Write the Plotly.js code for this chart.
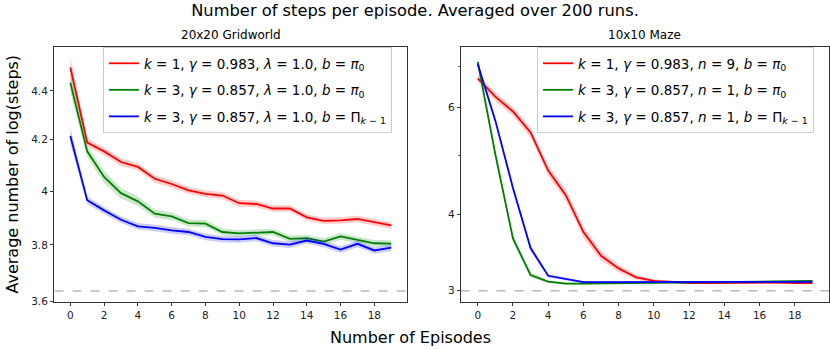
<!DOCTYPE html>
<html>
<head>
<meta charset="utf-8">
<script src="https://cdn.plot.ly/plotly-3.0.1.min.js"></script>
<style>
  html, body { margin: 0; padding: 0; background: #fff; }
  #chart { width: 830px; height: 349px; }
</style>
</head>
<body>
<div id="chart"></div>
<script>
const episodes = [0, 1, 2, 3, 4, 5, 6, 7, 8, 9, 10, 11, 12, 13, 14, 15, 16, 17, 18, 19];

// 20x20 Gridworld
const gridRed = [4.499, 4.189, 4.154, 4.112, 4.093, 4.047, 4.027, 4.003, 3.989, 3.983, 3.954, 3.951, 3.934, 3.934, 3.901, 3.888, 3.890, 3.895, 3.883, 3.871];
const gridGreen = [4.435, 4.154, 4.054, 3.992, 3.961, 3.915, 3.905, 3.880, 3.878, 3.847, 3.842, 3.845, 3.847, 3.822, 3.825, 3.812, 3.831, 3.818, 3.806, 3.805];
const gridBlue = [4.215, 3.965, 3.927, 3.892, 3.868, 3.862, 3.853, 3.847, 3.829, 3.821, 3.820, 3.825, 3.806, 3.801, 3.816, 3.804, 3.783, 3.804, 3.780, 3.790];
const gridRedErr = [0.045, 0.016, 0.015, 0.015, 0.014, 0.014, 0.014, 0.013, 0.013, 0.013, 0.013, 0.012, 0.012, 0.012, 0.012, 0.012, 0.012, 0.012, 0.012, 0.012];
const gridGreenErr = [0.040, 0.022, 0.024, 0.020, 0.018, 0.015, 0.014, 0.013, 0.013, 0.012, 0.012, 0.012, 0.012, 0.012, 0.012, 0.012, 0.012, 0.012, 0.012, 0.012];
const gridBlueErr = [0.032, 0.014, 0.013, 0.012, 0.012, 0.012, 0.012, 0.012, 0.012, 0.012, 0.012, 0.012, 0.012, 0.012, 0.012, 0.012, 0.012, 0.012, 0.012, 0.012];

// 10x10 Maze
const mazeRed = [6.69, 6.24, 5.90, 5.45, 4.72, 4.30, 3.74, 3.42, 3.26, 3.15, 3.11, 3.10, 3.085, 3.085, 3.088, 3.085, 3.088, 3.09, 3.085, 3.085];
const mazeGreen = [7.12, 5.02, 3.65, 3.18, 3.10, 3.078, 3.078, 3.08, 3.08, 3.082, 3.085, 3.086, 3.088, 3.09, 3.092, 3.095, 3.098, 3.10, 3.105, 3.108];
const mazeBlue = [7.06, 5.70, 4.42, 3.52, 3.17, 3.13, 3.095, 3.095, 3.095, 3.096, 3.096, 3.096, 3.095, 3.095, 3.094, 3.094, 3.096, 3.097, 3.098, 3.098];
const mazeRedErr = [0.10, 0.10, 0.10, 0.10, 0.09, 0.09, 0.08, 0.06, 0.045, 0.03, 0.02, 0.016, 0.014, 0.014, 0.014, 0.014, 0.014, 0.014, 0.014, 0.014];
const mazeGreenErr = [0.11, 0.07, 0.05, 0.03, 0.014, 0.012, 0.012, 0.012, 0.012, 0.012, 0.012, 0.012, 0.012, 0.012, 0.012, 0.012, 0.012, 0.012, 0.012, 0.012];
const mazeBlueErr = [0.08, 0.06, 0.05, 0.04, 0.02, 0.014, 0.012, 0.012, 0.012, 0.012, 0.012, 0.012, 0.012, 0.012, 0.012, 0.012, 0.012, 0.012, 0.012, 0.012];

const optimalSteps = [3.637, 2.996];

const gridLabels = [
  "<i>k</i> = 1, <i>γ</i> = 0.983, <i>λ</i> = 1.0, <i>b</i> = <i>π</i><sub>0</sub>",
  "<i>k</i> = 3, <i>γ</i> = 0.857, <i>λ</i> = 1.0, <i>b</i> = <i>π</i><sub>0</sub>",
  "<i>k</i> = 3, <i>γ</i> = 0.857, <i>λ</i> = 1.0, <i>b</i> = Π<sub><i>k</i> − 1</sub>"
];
const mazeLabels = [
  "<i>k</i> = 1, <i>γ</i> = 0.983, <i>n</i> = 9, <i>b</i> = <i>π</i><sub>0</sub>",
  "<i>k</i> = 3, <i>γ</i> = 0.857, <i>n</i> = 1, <i>b</i> = <i>π</i><sub>0</sub>",
  "<i>k</i> = 3, <i>γ</i> = 0.857, <i>n</i> = 1, <i>b</i> = Π<sub><i>k</i> − 1</sub>"
];

const colors = ["#ff0000", "#008000", "#0000ff"];
const bandColors = ["rgba(255,0,0,0.2)", "rgba(0,128,0,0.2)", "rgba(0,0,255,0.2)"];

const traces = [];

function addSeries(y, err, idx, label, xa, ya, legendName) {
  const lo = y.map((v, i) => v - err[i]);
  const hi = y.map((v, i) => v + err[i]);
  traces.push({
    x: episodes, y: lo, xaxis: xa, yaxis: ya, type: "scatter", mode: "lines",
    line: { width: 0, color: bandColors[idx] }, showlegend: false, hoverinfo: "skip"
  });
  traces.push({
    x: episodes, y: hi, xaxis: xa, yaxis: ya, type: "scatter", mode: "lines",
    line: { width: 0, color: bandColors[idx] }, fill: "tonexty", fillcolor: bandColors[idx],
    showlegend: false, hoverinfo: "skip"
  });
  traces.push({
    x: episodes, y: y, xaxis: xa, yaxis: ya, type: "scatter", mode: "lines",
    line: { width: 1.8, color: colors[idx] }, name: label, legend: legendName,
    legendgroup: legendName + idx
  });
}

// dashed optimal lines first so they sit under the curves
traces.push({
  x: [-2, 22], y: [optimalSteps[0], optimalSteps[0]], xaxis: "x", yaxis: "y",
  type: "scatter", mode: "lines", line: { color: "#b8b8b8", width: 1.5, dash: "dash" },
  showlegend: false, hoverinfo: "skip"
});
traces.push({
  x: [-2, 22], y: [optimalSteps[1], optimalSteps[1]], xaxis: "x2", yaxis: "y2",
  type: "scatter", mode: "lines", line: { color: "#b8b8b8", width: 1.5, dash: "dash" },
  showlegend: false, hoverinfo: "skip"
});

[gridRed, gridGreen, gridBlue].forEach((s, i) =>
  addSeries(s, [gridRedErr, gridGreenErr, gridBlueErr][i], i, gridLabels[i], "x", "y", "legend"));
[mazeRed, mazeGreen, mazeBlue].forEach((s, i) =>
  addSeries(s, [mazeRedErr, mazeGreenErr, mazeBlueErr][i], i, mazeLabels[i], "x2", "y2", "legend2"));

const font = "DejaVu Sans, sans-serif";

const xBase = {
  range: [-0.95, 19.95], tick0: 0, dtick: 2, ticks: "outside", ticklen: 3.5, tickwidth: 0.8,
  tickcolor: "#000", showline: true, mirror: true, linecolor: "#000", linewidth: 0.8,
  showgrid: false, zeroline: false, tickfont: { family: font, size: 10.5, color: "#222" }
};
const yBase = {
  type: "log", ticks: "outside", ticklen: 3.5, tickwidth: 0.8, tickcolor: "#000",
  showline: true, mirror: true, linecolor: "#000", linewidth: 0.8, showgrid: false,
  zeroline: false, tickfont: { family: font, size: 10.5, color: "#222" }
};

const legendBase = {
  y: 1.0, yanchor: "top", xanchor: "left",
  bgcolor: "rgba(255,255,255,0.8)", bordercolor: "#cccccc", borderwidth: 1,
  font: { family: font, size: 13.5, color: "#000" }, itemwidth: 30, tracegroupgap: 6
};

const layout = {
  width: 830, height: 349,
  margin: { l: 0, r: 0, t: 47, b: 47 },
  paper_bgcolor: "#fff", plot_bgcolor: "#fff",
  showlegend: true,
  title: {
    text: "Number of steps per episode. Averaged over 200 runs.",
    font: { family: font, size: 16.3, color: "#000" }, x: 0.5, xanchor: "center", y: 0.97, yanchor: "middle"
  },
  xaxis: Object.assign({}, xBase, { domain: [0.0654, 0.4907], anchor: "y" }),
  yaxis: Object.assign({}, yBase, {
    domain: [0, 1], anchor: "x",
    range: [Math.log10(3.599), Math.log10(4.588)],
    tickvals: [3.6, 3.8, 4, 4.2, 4.4], ticktext: ["3.6", "3.8", "4", "4.2", "4.4"]
  }),
  xaxis2: Object.assign({}, xBase, { domain: [0.5554, 0.999], anchor: "y2" }),
  yaxis2: Object.assign({}, yBase, {
    domain: [0, 1], anchor: "x2",
    range: [Math.log10(2.871), Math.log10(7.53)],
    tickvals: [3, 4, 6], ticktext: ["3", "4", "6"],
    minor: { tickvals: [5, 7], ticks: "outside", ticklen: 2, tickwidth: 0.6, tickcolor: "#000", showgrid: false }
  }),
  legend: Object.assign({}, legendBase, { x: 0.124 }),
  legend2: Object.assign({}, legendBase, { x: 0.647 }),
  annotations: [
    { text: "20x20 Gridworld", xref: "paper", yref: "paper", x: 0.278, y: 1, yshift: 3,
      xanchor: "center", yanchor: "bottom", showarrow: false, font: { family: font, size: 12, color: "#000" } },
    { text: "10x10 Maze", xref: "paper", yref: "paper", x: 0.777, y: 1, yshift: 3,
      xanchor: "center", yanchor: "bottom", showarrow: false, font: { family: font, size: 12, color: "#000" } },
    { text: "Number of Episodes", xref: "paper", yref: "paper", x: 0.495, y: -0.14,
      xanchor: "center", yanchor: "middle", showarrow: false, font: { family: font, size: 16, color: "#000" } },
    { text: "Average number of log(steps)", xref: "paper", yref: "paper", x: 0.0145, y: 0.5,
      xanchor: "center", yanchor: "middle", textangle: -90, showarrow: false,
      font: { family: font, size: 16, color: "#000" } }
  ]
};

Plotly.newPlot("chart", traces, layout, { displayModeBar: false, staticPlot: true });
</script>
</body>
</html>
